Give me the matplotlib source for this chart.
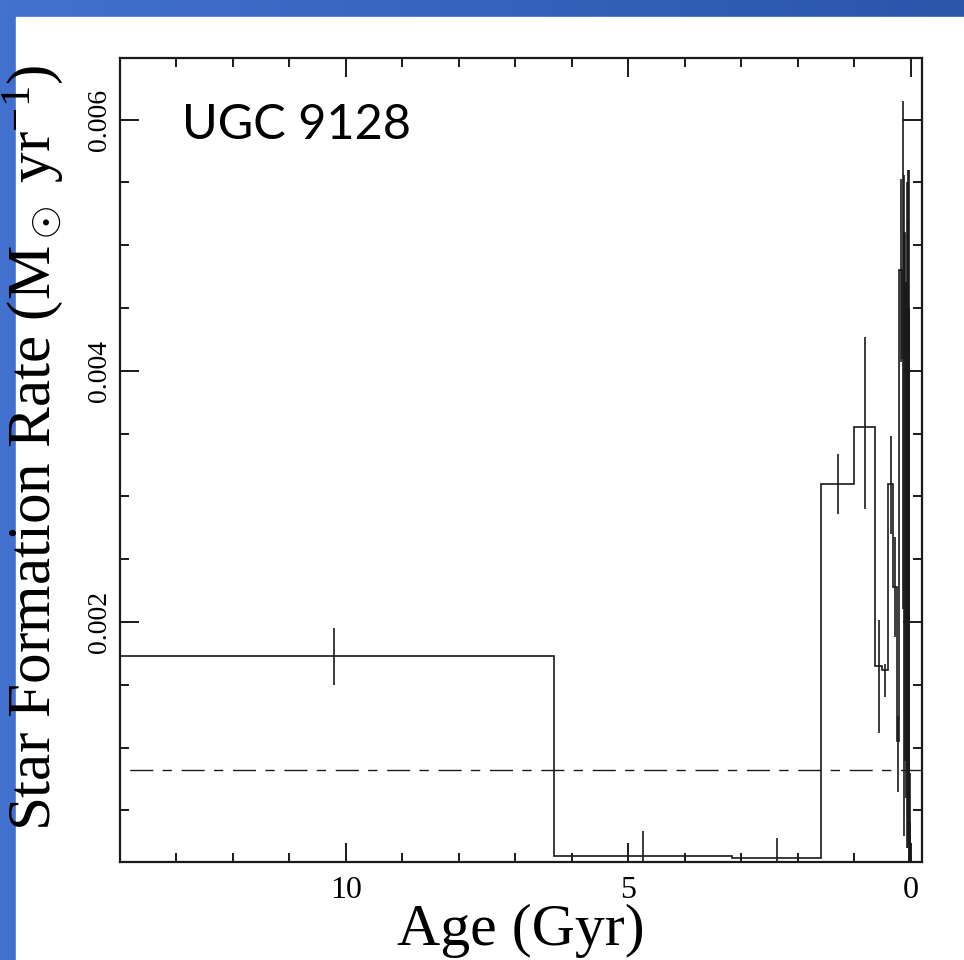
import numpy as np
import matplotlib
matplotlib.use("Agg")
import matplotlib.pyplot as plt
from matplotlib.patches import Rectangle

# bin edges in Gyr (old -> young) and star formation rate per bin
age_edges = [14.1, 6.31, 3.16, 1.58, 1.0, 0.631, 0.501, 0.398, 0.316, 0.251,
             0.200, 0.158, 0.126, 0.100, 0.079, 0.063, 0.050, 0.040, 0.032,
             0.025, 0.013, 0.004]
sfr = [0.001726, 0.000135, 0.000122, 0.00310, 0.00355, 0.00165, 0.00162,
       0.00310, 0.00228, 0.00105, 0.00480, 0.00410, 0.00510, 0.00090,
       0.00470, 0.00080, 0.00520, 0.00030, 0.00450, 0.00040, 0.00020]
err_hi = [0.00023, 0.00020, 0.00016, 0.00024, 0.00072, 0.00037, 0.00005,
          0.00038, 0.00040, 0.00020, 0.00073, 0.00205, 0.00046, 0.00030,
          0.00080, 0.00040, 0.00040, 0.00030, 0.00110, 0.00040, 0.00020]
err_lo = [0.00023, 0.00020, 0.00016, 0.00024, 0.00065, 0.00053, 0.00022,
          0.00040, 0.00040, 0.00040, 0.00073, 0.00200, 0.00480, 0.00030,
          0.00450, 0.00040, 0.00500, 0.00030, 0.00440, 0.00040, 0.00020]
mean_sfr = 0.00082

galaxy = "UGC 9128"
serif = ["Liberation Serif", "DejaVu Serif"]

plt.rcParams["mathtext.fontset"] = "custom"
plt.rcParams["mathtext.rm"] = "Liberation Serif"
plt.rcParams["mathtext.it"] = "Liberation Serif:italic"

fig = plt.figure(figsize=(9.64, 9.60), dpi=100)

# slide-style blue frame (top band and left strip)
W, H = 964, 960
bg = fig.add_axes([0, 0, 1, 1], zorder=-10)
grad = np.linspace(0, 1, 256)[None, :] * np.ones((256, 1))
bg.imshow(grad, cmap=matplotlib.colors.LinearSegmentedColormap.from_list(
    "slide", ["#4271cf", "#2a55a9"]), aspect="auto", extent=[0, 1, 0, 1])
bg.add_patch(Rectangle((16 / W, 0), 1, 1 - 17 / H, color="white"))
bg.set_xlim(0, 1)
bg.set_ylim(0, 1)
bg.axis("off")

ax = fig.add_axes([120 / W, 1 - 862 / H, 802 / W, 804 / H])

edges = np.array(age_edges)
vals = np.array(sfr)
centers = (edges[:-1] + edges[1:]) / 2

ax.stairs(vals, edges, baseline=None, color="#1a1a1a", lw=1.2)
ax.errorbar(centers, vals, yerr=[err_lo, err_hi], fmt="none",
            ecolor="#1a1a1a", elinewidth=1.2, capsize=0)
ax.axhline(mean_sfr, color="#1a1a1a", lw=1.0,
           linestyle=(30, (16.6, 6.7, 6.7, 7.0)))

ax.set_xlim(14.0, -0.2)
ax.set_ylim(0.00009, 0.00649)
ax.set_xticks([10, 5, 0])
ax.set_xticks(np.arange(0, 14, 1), minor=True)
ax.set_yticks([0.002, 0.004, 0.006])
ax.set_yticks(np.arange(0.0005, 0.0065, 0.0005), minor=True)
ax.set_xticklabels(["10", "5", "0"], family=serif, fontsize=23)
ax.set_yticklabels(["0.002", "0.004", "0.006"], family=serif, fontsize=20,
                   rotation=90, va="center")
ax.tick_params(which="both", direction="in", top=True, right=True,
               width=1.4, color="#1a1a1a")
ax.tick_params(axis="x", which="major", length=13.7, pad=10)
ax.tick_params(axis="y", which="major", length=13.7, pad=6)
ax.tick_params(which="minor", length=6.6)
for s in ax.spines.values():
    s.set_linewidth(1.6)
    s.set_color("#1a1a1a")

ax.set_xlabel("Age (Gyr)", family=serif, fontsize=43)
ax.xaxis.set_label_coords(0.5, -0.086)
ax.xaxis.label.set_va("center")
ax.set_ylabel(r"Star Formation Rate (M$_\odot$ yr$^{-1}$)", family=serif,
              fontsize=44)
ax.yaxis.set_label_coords(-0.108, 0.515)
ax.yaxis.label.set_va("center")
ax.text(0.077, 0.899, galaxy, transform=ax.transAxes, family="Lato",
        fontsize=35, va="baseline", ha="left")

fig.savefig("out.png", dpi=100)
